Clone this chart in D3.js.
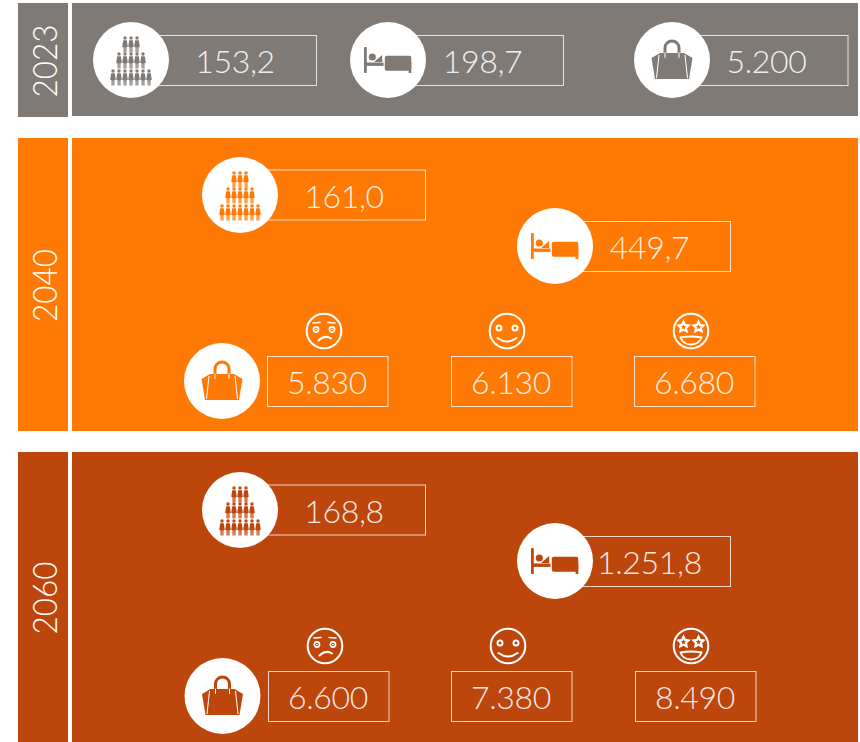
<!DOCTYPE html>
<html><head><meta charset="utf-8">
<script src="https://cdnjs.cloudflare.com/ajax/libs/d3/7.8.5/d3.min.js"></script>
<style>html,body{margin:0;padding:0;background:#fff}svg{display:block}text{font-family:Lato,sans-serif;font-weight:300;fill:#fff}</style>
</head><body><svg id="c" width="860" height="742"></svg>
<script>
// ---- data
const years = ["2023", "2040", "2060"];
const populationLabels = ["153,2", "161,0", "168,8"];
const bedLabels = ["198,7", "449,7", "1.251,8"];
const spendLow = ["5.200", "5.830", "6.600"];
const spendMid = [null, "6.130", "7.380"];
const spendHigh = [null, "6.680", "8.490"];
const moods = ["sad", "happy", "star"];

// ---- styles and layout
const colours = ["#807a76", "#ff7a04", "#bd460c"];
const bands = [[3, 117], [138, 431], [452, 742]];
const bandScale = d3.scaleOrdinal().domain(years).range(bands);
const colour = d3.scaleOrdinal().domain(years).range(colours);
const layouts = {
  "2023": {people:[131,60,316,35], bed:[388,60,563,35], bag:[672,60,847.5,35]},
  "2040": {people:[240,195,425,169.5], bed:[555,246,730,221], bag:[222,381], boxes:[267,451,634], boxY:356, faceX:[324,507,691], faceY:331},
  "2060": {people:[240,510,425,484.5], bed:[555,561,730,536], bag:[222.5,696], boxes:[268,451,635], boxY:671, faceX:[325,508,691], faceY:646}
};
const svg = d3.select("#c");

function person(g, x, y, col) {
  g.append("circle").attr("cx",x).attr("cy",y-5).attr("r",1.7).attr("fill",col);
  g.append("path").attr("fill",col).attr("d",
   `M${x-1.8},${y-2.8}L${x+1.8},${y-2.8}L${x+2.8},${y+3.8}L${x+1.5},${y+4.2}L${x+1.5},${y+9.5}L${x+.3},${y+9.5}L${x+.3},${y+4.4}L${x-.3},${y+4.4}L${x-.3},${y+9.5}L${x-1.5},${y+9.5}L${x-1.5},${y+4.2}L${x-2.8},${y+3.8}Z`);
}
function peopleIcon(g, cx, cy, col) {
  [[3,-17],[5,-1],[7,16]].forEach(([n,dy]) => {
    d3.range(n).forEach(i => person(g, cx + (i-(n-1)/2)*6, cy+dy, col));
  });
}
function bedIcon(g, cx, cy, col) {
  const p = g.append("g").attr("transform",`translate(${cx},${cy})`).attr("fill",col);
  p.append("rect").attr("x",-24).attr("y",-13).attr("width",2.8).attr("height",26).attr("rx",.8);
  p.append("rect").attr("x",-23).attr("y",2.5).attr("width",18.5).attr("height",3.4);
  p.append("circle").attr("cx",-15.7).attr("cy",-3).attr("r",3.6);
  p.append("path").attr("d","M-14,2L-5.8,-5L-5.8,2Z");
  p.append("rect").attr("x",-3.2).attr("y",-4.3).attr("width",26.5).attr("height",15).attr("rx",2);
  p.append("rect").attr("x",20.6).attr("y",2).attr("width",2.7).attr("height",11);
}
function bagIcon(g, cx, cy, col, bg) {
  const p = g.append("g").attr("transform",`translate(${cx},${cy})`);
  p.append("path").attr("fill",col).attr("d","M-12,-7L-20.5,-2L-17,19L17,19L20.5,-2L12,-7Z");
  p.append("path").attr("fill","none").attr("stroke",bg).attr("stroke-width",1).attr("d","M-13,-5L-15.5,18M13,-5L15.5,18");
  p.append("path").attr("fill","none").attr("stroke",col).attr("stroke-width",3).attr("d","M-7,-3L-7,-12A7,7 0 0 1 7,-12L7,-3");
  p.append("path").attr("fill","none").attr("stroke","#fff").attr("stroke-width",1).attr("stroke-linecap","round").attr("d","M-7,-7L-7,-2.5M7,-7L7,-2.5");
}
function star(x, y, r) {
  return d3.range(10).map(i => {
    const a = -Math.PI/2 + i*Math.PI/5, q = i%2 ? r*.5 : r;
    return [x+q*Math.cos(a), y+q*Math.sin(a)];
  }).join("L");
}
function face(g, cx, cy, kind) {
  const p = g.append("g").attr("transform",`translate(${cx},${cy})`).attr("fill","none").attr("stroke","#fff").attr("stroke-width",2);
  p.append("circle").attr("r",17.3);
  if (kind === "sad") {
    [-8,8].forEach(x => {
      p.append("circle").attr("cx",x).attr("cy",-1.5).attr("r",2.6).attr("stroke-width",1.6);
      p.append("circle").attr("cx",x).attr("cy",-1.5).attr("r",.5).attr("fill","#fff").attr("stroke-width",1);
    });
    p.append("path").attr("stroke-width",1.6).attr("stroke-linecap","round").attr("d","M-11,-8L-4,-8.5M4,-8.5L11,-8");
    p.append("path").attr("stroke-width",2).attr("stroke-linecap","round").attr("d","M-5.5,9.5Q1,3.5 7,7.5");
  } else if (kind === "happy") {
    [-8,8].forEach(x => p.append("circle").attr("cx",x).attr("cy",-3).attr("r",2.5));
    p.append("path").attr("stroke-width",2).attr("stroke-linecap","round").attr("d","M-9.5,7Q0,14 9.5,7");
  } else {
    [-7.5,7.5].forEach(x => p.append("path").attr("stroke-width",2.2).attr("d","M"+star(x,-4,5.2)+"Z"));
    p.append("path").attr("stroke-width",1.8).attr("d","M-10.5,6.5Q0,4.5 10.5,6.5Q8,13.5 0,13.5Q-8,13.5 -10.5,6.5Z");
  }
}
function valueBox(g, x0, x1, y, label, tx) {
  g.append("rect").attr("x",x0+.5).attr("y",y+.5).attr("width",x1-x0).attr("height",50)
    .attr("fill","none").attr("stroke","#fff").attr("stroke-opacity",.78).attr("stroke-width",1);
  g.append("text").attr("x",tx).attr("y",y+38).attr("text-anchor","middle").attr("font-size",32)
    .attr("letter-spacing","-0.3px").attr("fill-opacity",.9).text(label);
}
function disc(g, cx, cy) {
  g.append("circle").attr("cx",cx).attr("cy",cy).attr("r",38).attr("fill","#fff");
}

years.forEach((year, i) => {
  const [y0, y1] = bandScale(year), col = colour(year), L = layouts[year];
  const g = svg.append("g").attr("class","panel");
  g.append("rect").attr("x",18).attr("y",y0).attr("width",50).attr("height",y1-y0).attr("fill",col);
  g.append("rect").attr("x",72).attr("y",y0).attr("width",786).attr("height",(i===0?y1-1:y1)-y0).attr("fill",col);
  g.append("text").attr("transform",`translate(57,${(y0+y1)/2+1}) rotate(-90)`)
    .attr("text-anchor","middle").attr("font-size",34).attr("textLength",73).attr("lengthAdjust","spacingAndGlyphs").text(year);

  valueBox(g, L.people[0], L.people[2], L.people[3], populationLabels[i], L.people[0]+104);
  disc(g, L.people[0], L.people[1]); peopleIcon(g, L.people[0], L.people[1], col);

  valueBox(g, L.bed[0], L.bed[2], L.bed[3], bedLabels[i], L.bed[0]+94.5);
  disc(g, L.bed[0], L.bed[1]); bedIcon(g, L.bed[0], L.bed[1], col);

  if (i === 0) {
    valueBox(g, L.bag[0], L.bag[2], L.bag[3], spendLow[i], L.bag[0]+94.5);
  }
  disc(g, L.bag[0], L.bag[1]); bagIcon(g, L.bag[0], L.bag[1], col, "#fff");

  if (i > 0) {
    [spendLow[i], spendMid[i], spendHigh[i]].forEach((v, k) => {
      valueBox(g, L.boxes[k], L.boxes[k]+120.5, L.boxY, v, L.boxes[k]+60);
      face(g, L.faceX[k], L.faceY, moods[k]);
    });
  }
});
</script></body></html>
